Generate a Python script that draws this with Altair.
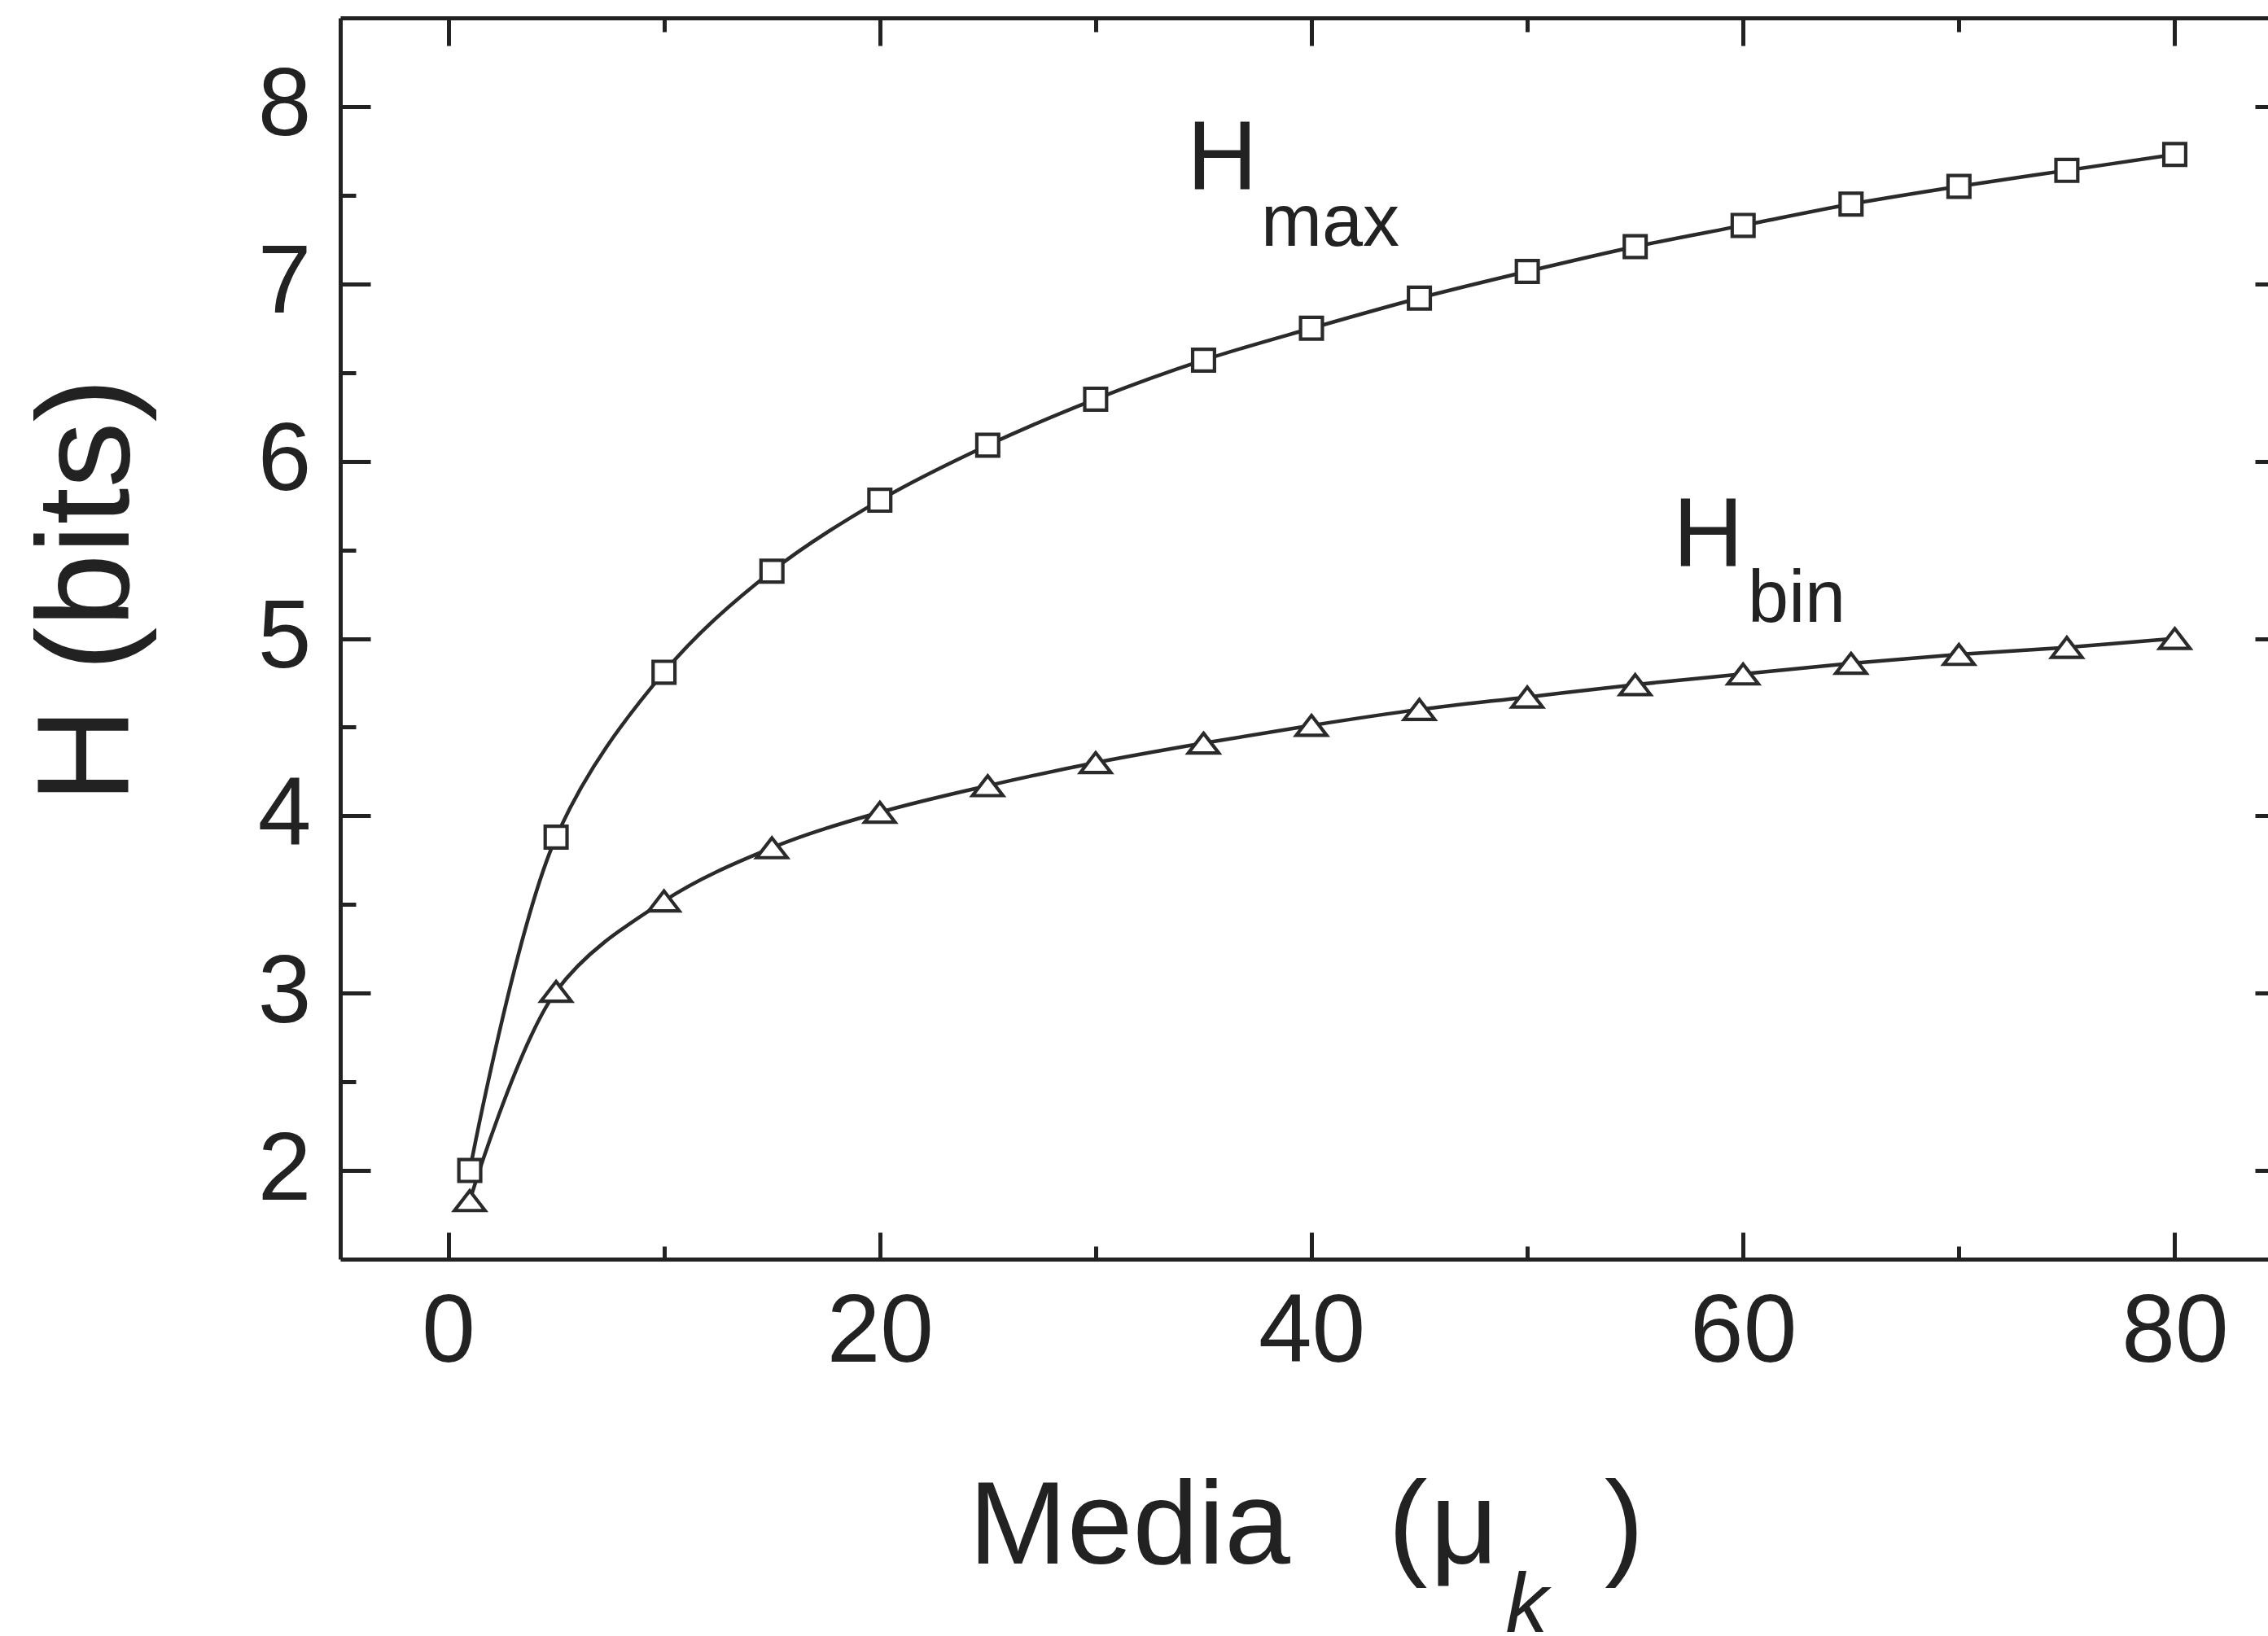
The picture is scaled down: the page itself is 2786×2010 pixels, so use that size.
import altair as alt
import pandas as pd

# ---- data ----
mu = [1, 5, 10, 15, 20, 25, 30, 35, 40, 45, 50, 55, 60, 65, 70, 75, 80]
h_max = [2.00, 3.88, 4.81, 5.38, 5.78, 6.09, 6.35, 6.57, 6.75, 6.92,
         7.07, 7.21, 7.33, 7.45, 7.55, 7.64, 7.73]
h_bin = [1.83, 3.01, 3.52, 3.82, 4.02, 4.17, 4.30, 4.41, 4.51, 4.60,
         4.67, 4.74, 4.80, 4.86, 4.91, 4.95, 5.00]

x_major = [0, 20, 40, 60, 80]
x_minor = [10, 30, 50, 70]
y_major = [2, 3, 4, 5, 6, 7, 8]
y_minor = [2.5, 3.5, 4.5, 5.5, 6.5, 7.5]

# annotations (data coordinates)
big_text = ["H", "H"]
big_x = [34.23, 56.75]
big_y = [7.532, 5.404]
sub_text = ["max", "bin"]
sub_x = [37.66, 60.22]
sub_y = [7.216, 5.092]
xt_text = ["Media", "(", "\u03bc", ")"]
xt_x = [24.12, 43.55, 45.5, 53.58]
xt_y = [-0.216, -0.216, -0.216, -0.216]
xk_text = ["k"]
xk_x = [49.0]
xk_y = [-0.60]

W, H = 2368, 1525
INK = "#222222"
LINE = "#2a2a2a"
FONT = "Liberation Sans"

xs = alt.Scale(domain=[-5, 84.32], nice=False, zero=False)
ys = alt.Scale(domain=[1.5, 8.5], nice=False, zero=False)

df_max = pd.DataFrame({"mu": mu, "h": h_max})
df_bin = pd.DataFrame({"mu": mu, "h": h_bin})


def tick_axis(orient, values, size, offset, domain=False):
    return alt.Axis(orient=orient, values=values, tickSize=size, offset=offset,
                    labels=False, domain=domain, title=None, grid=False, ticks=True)


# layer 1: H_max line + labelled axes
l1 = alt.Chart(df_max).mark_line(interpolate="catmull-rom", color=LINE, strokeWidth=4.5).encode(
    x=alt.X("mu:Q", scale=xs, axis=alt.Axis(
        orient="bottom", values=x_major, ticks=False, tickSize=0, labelPadding=32,
        labelFontSize=118, labelFlush=False, labelOverlap=False, domain=True,
        title=None, format="d", grid=False)),
    y=alt.Y("h:Q", scale=ys, axis=alt.Axis(
        orient="left", values=y_major, ticks=False, tickSize=0, labelPadding=36,
        labelFontSize=118, labelFlush=False, labelOverlap=False, domain=True,
        format="d", grid=False, title="H (bits)", titleFontSize=162,
        titleFont=FONT, titleColor=INK, titleFontWeight="normal",
        titleX=-261, titleY=703, titleBaseline="alphabetic", titleAlign="center")),
)

# layer 2: H_bin line; top spine + top major ticks, left inward major ticks
l2 = alt.Chart(df_bin).mark_line(interpolate="catmull-rom", color=LINE, strokeWidth=4.5).encode(
    x=alt.X("mu:Q", scale=xs, axis=tick_axis("bottom", x_major, 34, -H, domain=True)),
    y=alt.Y("h:Q", scale=ys, axis=tick_axis("right", y_major, 37, -W)),
)

# layer 3: H_max squares; top minor ticks, left minor ticks
l3 = alt.Chart(df_max).mark_point(shape="square", size=720, filled=False, fill="white",
                                  fillOpacity=1, stroke=LINE, strokeWidth=4.2, opacity=1).encode(
    x=alt.X("mu:Q", scale=xs, axis=tick_axis("bottom", x_minor, 17, -H)),
    y=alt.Y("h:Q", scale=ys, axis=tick_axis("right", y_minor, 19, -W)),
)

# layer 4: H_bin triangles; bottom major ticks, right major ticks
l4 = alt.Chart(df_bin).mark_point(shape="M0,-0.65L1,0.65L-1,0.65Z", size=1400, filled=False,
                                  fill="white", fillOpacity=1, stroke=LINE, strokeWidth=4.2,
                                  opacity=1).encode(
    x=alt.X("mu:Q", scale=xs, axis=tick_axis("top", x_major, 33, -H)),
    y=alt.Y("h:Q", scale=ys, axis=tick_axis("right", y_major, 16, -16)),
)

# layer 5: big "H" annotations; bottom minor ticks
df_big = pd.DataFrame({"x": big_x, "y": big_y, "t": big_text})
l5 = alt.Chart(df_big).mark_text(font=FONT, fontSize=120, align="left",
                                 baseline="alphabetic", color=INK).encode(
    x=alt.X("x:Q", scale=xs, axis=tick_axis("top", x_minor, 16, -H)),
    y=alt.Y("y:Q", scale=ys, axis=None),
    text="t:N",
)

df_sub = pd.DataFrame({"x": sub_x, "y": sub_y, "t": sub_text})
l6 = alt.Chart(df_sub).mark_text(font=FONT, fontSize=90, align="left",
                                 baseline="alphabetic", color=INK).encode(
    x=alt.X("x:Q", scale=xs, axis=None),
    y=alt.Y("y:Q", scale=ys, axis=None),
    text="t:N",
)

df_xt = pd.DataFrame({"x": xt_x, "y": xt_y, "t": xt_text})
l7 = alt.Chart(df_xt).mark_text(font=FONT, fontSize=145, align="left",
                                baseline="alphabetic", color=INK).encode(
    x=alt.X("x:Q", scale=xs, axis=None),
    y=alt.Y("y:Q", scale=ys, axis=None),
    text="t:N",
)

df_xk = pd.DataFrame({"x": xk_x, "y": xk_y, "t": xk_text})
l8 = alt.Chart(df_xk).mark_text(font=FONT, fontSize=104, fontStyle="italic", align="left",
                                baseline="alphabetic", color=INK).encode(
    x=alt.X("x:Q", scale=xs, axis=None),
    y=alt.Y("y:Q", scale=ys, axis=None),
    text="t:N",
)

chart = alt.layer(l1, l2, l3, l4, l5, l6, l7, l8).resolve_axis(
    x="independent", y="independent"
).properties(
    width=W, height=H,
    autosize=alt.AutoSizeParams(type="none"),
    padding={"left": 418, "top": 22, "right": 0, "bottom": 463},
    background="white",
).configure_view(
    stroke=None
).configure_axis(
    labelFont=FONT, labelColor=INK, domainColor=INK, tickColor=INK,
    domainWidth=5, tickWidth=5, grid=False,
)

chart.save("out.html", embed_options={"renderer": "svg", "actions": False})
